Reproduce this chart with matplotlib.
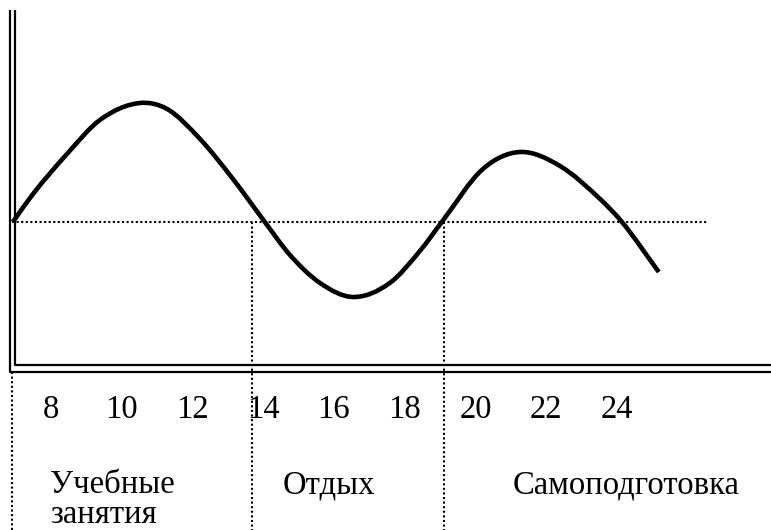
import numpy as np
import matplotlib
matplotlib.use("Agg")
from matplotlib import pyplot as plt
from matplotlib.path import Path
from matplotlib.patches import PathPatch

# work capacity curve over the day (hours, relative level)
hours = [6.93, 7.5, 8.46, 9.39, 10.52, 11.29, 12.22, 13.15, 14.05, 14.76,
         15.61, 16.54, 17.58, 18.43, 19.05, 20.21, 21.26, 22.39, 23.52,
         24.14, 25.18]
level = [0, 28, 68, 102, 119, 113, 83, 43, 0, -33,
         -61, -75, -61, -29, 0, 53, 70, 56, 23,
         0, -50]

tick_hours = [8, 10, 12, 14, 16, 18, 20, 22, 24]
bounds = [6.9, 13.7, 19.1]
mean_end = 26.54
periods = ["Учебные\nзанятия", "Отдых", "Самоподготовка"]
period_x = [7.98, 14.54, 21.06]

plt.rcParams["font.family"] = ["Liberation Serif", "DejaVu Serif"]

fig = plt.figure(figsize=(7.71, 5.30), dpi=100)
ax = fig.add_axes([0, 0, 1, 1])
ax.set_xlim(6.568, 28.35)
ax.set_ylim(-308, 222)
ax.axis("off")


def smooth_path(x, y):
    # cubic Hermite through the points, drawn as Bezier segments
    x = np.asarray(x, float)
    y = np.asarray(y, float)
    s = np.diff(y) / np.diff(x)
    m = np.empty_like(y)
    m[0], m[-1] = s[0], s[-1]
    m[1:-1] = (s[:-1] + s[1:]) / 2
    verts = [(x[0], y[0])]
    codes = [Path.MOVETO]
    for i in range(len(x) - 1):
        d = (x[i + 1] - x[i]) / 3
        verts += [(x[i] + d, y[i] + d * m[i]),
                  (x[i + 1] - d, y[i + 1] - d * m[i + 1]),
                  (x[i + 1], y[i + 1])]
        codes += [Path.CURVE4] * 3
    return Path(verts, codes)


ax.add_patch(PathPatch(smooth_path(hours, level), fill=False,
                       lw=3.3, ec="black", capstyle="butt", zorder=3))

dot = dict(color="black", lw=1.5, linestyle=(0, (1, 1.2)))
ax.plot([bounds[0], mean_end], [0, 0], **dot)
ax.plot([bounds[0], bounds[0]], [-150, -308], **dot)
for b in bounds[1:]:
    ax.plot([b, b], [0, -308], **dot)

# double-line axes
axk = dict(color="black", lw=1.6, solid_capstyle="butt")
ax.plot([6.85, 6.85, 28.35], [212, -149.5, -149.5], **axk)
ax.plot([6.978, 6.978, 28.35], [212, -143, -143], **axk)

for h in tick_hours:
    ax.text(h, -188, str(h), ha="center", va="center", fontsize=23.5)

for x, t in zip(period_x, periods):
    for k, line in enumerate(t.split("\n")):
        ax.text(x, -271 - 30 * k, line, ha="left", va="baseline",
                fontsize=23.5)

fig.savefig("out.png", dpi=100)
